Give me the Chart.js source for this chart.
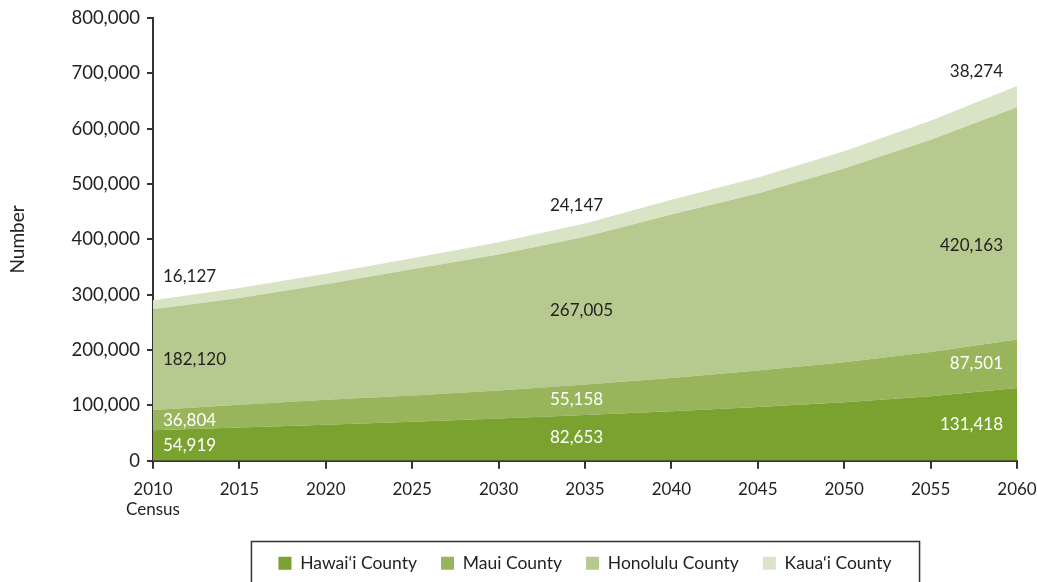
<!DOCTYPE html>
<html>
<head>
<meta charset="utf-8">
<script src="https://cdn.jsdelivr.net/npm/chart.js@4"></script>
<style>
  html, body { margin: 0; padding: 0; background: #fff; }
  #wrap { width: 1037px; height: 582px; }
</style>
</head>
<body>
<div id="wrap"><canvas id="c" width="1037" height="582"></canvas></div>
<script>
// projected population by county
const years = ['2010', '2015', '2020', '2025', '2030', '2035', '2040', '2045', '2050', '2055', '2060']
const hawaii = [54919, 59800, 65000, 70500, 76300, 82653, 89500, 97000, 105500, 116500, 131418]
const maui = [36804, 41500, 45000, 47500, 50500, 55158, 60000, 66000, 72500, 80000, 87501]
const honolulu = [182120, 193000, 209000, 228000, 246000, 267005, 295500, 320000, 350000, 383500, 420163]
const kauai = [16127, 18000, 19000, 20000, 22000, 24147, 26500, 29000, 31500, 34500, 38274]
const seriesNames = ['Hawai\u2018i County', 'Maui County', 'Honolulu County', 'Kaua\u2018i County']
const seriesColors = ['#7aa22f', '#98b55c', '#b6c98e', '#d9e3c5']
const yTicks = [0, 100000, 200000, 300000, 400000, 500000, 600000, 700000, 800000]
const labelCols = [0, 5, 10] // columns with value labels

const FONT = 'Lato'
const INK = '#231f20'
const AXIS = '#333333'

const seriesData = [hawaii, maui, honolulu, kauai]

// value labels inside the bands
const bandLabels = {
  id: 'bandLabels',
  afterDatasetsDraw(chart) {
    const { ctx, scales: { x, y } } = chart
    const topGap = [24, 18, 14] // Kaua'i label sits above the top edge
    ctx.save()
    ctx.font = '17px ' + FONT
    ctx.textBaseline = 'middle'
    labelCols.forEach((col, k) => {
      const px = x.getPixelForValue(col)
      let tx
      if (k === 0) { ctx.textAlign = 'left'; tx = px + 10 }
      else if (k === 1) { ctx.textAlign = 'left'; tx = px - 35 }
      else { ctx.textAlign = 'right'; tx = px - 14 }
      let base = 0
      seriesData.forEach((arr, i) => {
        const v = arr[col]
        const y0 = y.getPixelForValue(base)
        const y1 = y.getPixelForValue(base + v)
        let ty = (y0 + y1) / 2
        if (i === 3) ty = y1 - topGap[k]
        if (i === 2 && k === 2) ty += 22
        ctx.fillStyle = i < 2 ? '#ffffff' : INK
        ctx.fillText(v.toLocaleString('en-US'), tx, ty)
        base += v
      })
    })
    ctx.restore()
  }
}

// frame round the legend
const legendFrame = {
  id: 'legendFrame',
  afterDraw(chart) {
    const lg = chart.legend
    if (!lg || !lg.legendHitBoxes.length) return
    const boxes = lg.legendHitBoxes
    const left = Math.min(...boxes.map(b => b.left)) - 27
    const right = Math.max(...boxes.map(b => b.left + b.width)) + 28
    const top = Math.min(...boxes.map(b => b.top)) - 13
    const bottom = Math.max(...boxes.map(b => b.top + b.height)) + 13
    const ctx = chart.ctx
    ctx.save()
    ctx.strokeStyle = AXIS
    ctx.lineWidth = 1.5
    ctx.strokeRect(left, top, right - left, bottom - top)
    ctx.restore()
  }
}

new Chart(document.getElementById('c').getContext('2d'), {
  type: 'line',
  data: {
    labels: years,
    datasets: seriesData.map((arr, i) => ({
      label: seriesNames[i],
      data: arr,
      backgroundColor: seriesColors[i],
      borderColor: seriesColors[i],
      borderWidth: 0,
      pointRadius: 0,
      tension: 0,
      fill: i === 0 ? 'origin' : '-1'
    }))
  },
  options: {
    responsive: false,
    animation: false,
    layout: { padding: { top: 14, right: 0, left: 0, bottom: 0 } },
    plugins: {
      legend: {
        position: 'bottom',
        fullSize: false,
        labels: {
          boxWidth: 13,
          boxHeight: 13,
          padding: 24,
          color: INK,
          font: { family: FONT, size: 17.5 }
        }
      },
      tooltip: { enabled: false }
    },
    scales: {
      x: {
        offset: false,
        afterFit: s => { s.paddingLeft = 0; s.paddingRight = 20 },
        grid: { display: true, drawOnChartArea: false, drawTicks: true, tickLength: 8, color: AXIS, lineWidth: 2 },
        border: { display: true, color: AXIS, width: 2 },
        ticks: {
          color: INK,
          padding: 10.5,
          maxRotation: 0,
          autoSkip: false,
          font: { family: FONT, size: 17 },
          callback: (v, i) => i === 0 ? [years[i], 'Census'] : years[i]
        }
      },
      y: {
        stacked: true,
        min: 0,
        max: 800000,
        afterFit: s => { s.width = 153 },
        afterBuildTicks: s => { s.ticks = yTicks.map(v => ({ value: v })) },
        grid: { display: true, drawOnChartArea: false, drawTicks: true, tickLength: 6, color: AXIS, lineWidth: 2 },
        border: { display: true, color: AXIS, width: 2 },
        ticks: {
          color: INK,
          padding: 7,
          font: { family: FONT, size: 18.5 },
          callback: v => v.toLocaleString('en-US')
        },
        title: {
          display: true,
          text: 'Number',
          color: INK,
          padding: { top: 6, bottom: 0 },
          font: { family: FONT, size: 19 }
        }
      }
    }
  },
  plugins: [bandLabels, legendFrame]
})
</script>
</body>
</html>
